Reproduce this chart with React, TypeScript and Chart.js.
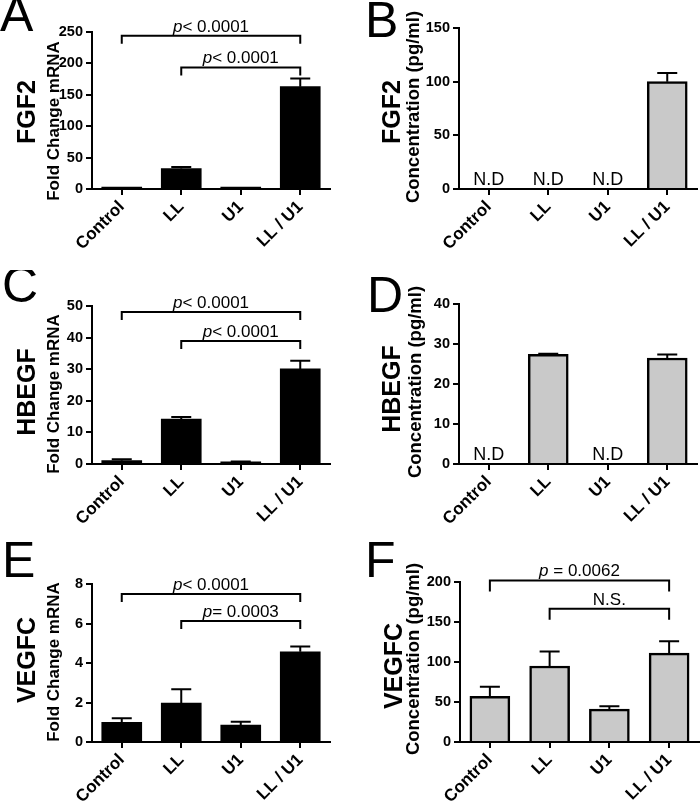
import React, { useEffect, useRef } from 'react';
import { Chart, registerables } from 'chart.js';

Chart.register(...registerables);

// ---------------- DATA ----------------
const categories = ['Control', 'LL', 'U1', 'LL / U1'];

// Panel A: FGF2 fold change mRNA
const fgf2MrnaMean = [1, 32.7, 1, 163];
const fgf2MrnaErr = [0.4, 2.5, 0.3, 13];
const fgf2MrnaTicks = [0, 50, 100, 150, 200, 250];
const fgf2MrnaBrackets = [
  { from: 0, to: 3, y: 244, italic: 'p', text: '< 0.0001' },
  { from: 1, to: 3, y: 193.5, italic: 'p', text: '< 0.0001' },
];

// Panel B: FGF2 concentration (null = N.D)
const fgf2ProtMean = [null, null, null, 100];
const fgf2ProtErr = [0, 0, 0, 8];
const fgf2ProtTicks = [0, 50, 100, 150];

// Panel C: HBEGF fold change mRNA
const hbegfMrnaMean = [1.05, 14.2, 0.7, 30.1];
const hbegfMrnaErr = [0.45, 0.7, 0.1, 2.6];
const hbegfMrnaTicks = [0, 10, 20, 30, 40, 50];
const hbegfMrnaBrackets = [
  { from: 0, to: 3, y: 48.1, italic: 'p', text: '< 0.0001' },
  { from: 1, to: 3, y: 38.9, italic: 'p', text: '< 0.0001' },
];

// Panel D: HBEGF concentration
const hbegfProtMean = [null, 27.4, null, 26.5];
const hbegfProtErr = [0, 0.15, 0, 0.9];
const hbegfProtTicks = [0, 10, 20, 30, 40];

// Panel E: VEGFC fold change mRNA
const vegfcMrnaMean = [1.0, 1.97, 0.86, 4.57];
const vegfcMrnaErr = [0.2, 0.7, 0.17, 0.26];
const vegfcMrnaTicks = [0, 2, 4, 6, 8];
const vegfcMrnaBrackets = [
  { from: 0, to: 3, y: 7.49, italic: 'p', text: '< 0.0001' },
  { from: 1, to: 3, y: 6.13, italic: 'p', text: '= 0.0003' },
];

// Panel F: VEGFC concentration
const vegfcProtMean = [57, 95, 41, 111];
const vegfcProtErr = [12, 18, 3.7, 15];
const vegfcProtTicks = [0, 50, 100, 150, 200];
const vegfcProtBrackets = [
  { from: 0, to: 3, y: 202, italic: 'p', text: ' = 0.0062' },
  { from: 1, to: 3, y: 166.7, italic: '', text: 'N.S.' },
];

// ---------------- STYLE / LAYOUT ----------------
const FONT = '"Liberation Sans", Arial, Helvetica, sans-serif';
const BLACK_FILL = '#000000';
const GRAY_FILL = '#c9c9c9';

type Bracket = { from: number; to: number; y: number; italic: string; text: string };
type Panel = {
  letter: string;
  gene: string;
  unit: string;
  unitSize: number;
  mean: (number | null)[];
  err: number[];
  ticks: number[];
  brackets: Bracket[];
  gray: boolean;
  box: { x: number; y: number; w: number; h: number };
  area: { l: number; r: number; t: number; b: number };
  letterPos: [number, number];
  geneX: number;
  geneY: number;
  unitX: number;
  unitY: number;
  drop: number;
};

const panels: Panel[] = [
  {
    letter: 'A', gene: 'FGF2', unit: 'Fold Change mRNA', unitSize: 17, mean: fgf2MrnaMean, err: fgf2MrnaErr,
    ticks: fgf2MrnaTicks, brackets: fgf2MrnaBrackets, gray: false,
    box: { x: 0, y: 0, w: 350, h: 268 }, area: { l: 92, r: 330, t: 32, b: 189 },
    letterPos: [0, 31], geneX: 35, geneY: 112, unitX: 59, unitY: 121, drop: 8,
  },
  {
    letter: 'B', gene: 'FGF2', unit: 'Concentration (pg/ml)', unitSize: 18.5, mean: fgf2ProtMean, err: fgf2ProtErr,
    ticks: fgf2ProtTicks, brackets: [], gray: true,
    box: { x: 350, y: 0, w: 350, h: 268 }, area: { l: 109, r: 347, t: 28, b: 189 },
    letterPos: [15, 37], geneX: 50, geneY: 112, unitX: 69, unitY: 107, drop: 8,
  },
  {
    letter: 'C', gene: 'HBEGF', unit: 'Fold Change mRNA', unitSize: 17, mean: hbegfMrnaMean, err: hbegfMrnaErr,
    ticks: hbegfMrnaTicks, brackets: hbegfMrnaBrackets, gray: false,
    box: { x: 0, y: 270, w: 350, h: 265 }, area: { l: 92, r: 330, t: 36, b: 194 },
    letterPos: [2, 32], geneX: 35, geneY: 122, unitX: 59, unitY: 124, drop: 8,
  },
  {
    letter: 'D', gene: 'HBEGF', unit: 'Concentration (pg/ml)', unitSize: 18.5, mean: hbegfProtMean, err: hbegfProtErr,
    ticks: hbegfProtTicks, brackets: [], gray: true,
    box: { x: 350, y: 270, w: 350, h: 265 }, area: { l: 109, r: 347, t: 34, b: 194 },
    letterPos: [17, 42], geneX: 50, geneY: 119, unitX: 71, unitY: 112, drop: 8,
  },
  {
    letter: 'E', gene: 'VEGFC', unit: 'Fold Change mRNA', unitSize: 17, mean: vegfcMrnaMean, err: vegfcMrnaErr,
    ticks: vegfcMrnaTicks, brackets: vegfcMrnaBrackets, gray: false,
    box: { x: 0, y: 535, w: 350, h: 267 }, area: { l: 92, r: 330, t: 49, b: 207 },
    letterPos: [2, 42], geneX: 35, geneY: 125, unitX: 59, unitY: 127, drop: 8,
  },
  {
    letter: 'F', gene: 'VEGFC', unit: 'Concentration (pg/ml)', unitSize: 18.5, mean: vegfcProtMean, err: vegfcProtErr,
    ticks: vegfcProtTicks, brackets: vegfcProtBrackets, gray: true,
    box: { x: 350, y: 535, w: 350, h: 267 }, area: { l: 110, r: 349, t: 47, b: 207 },
    letterPos: [15, 42], geneX: 52, geneY: 131, unitX: 69, unitY: 124, drop: 11,
  },
];

function makeDecor(p: Panel) {
  return {
    id: 'decor' + p.letter,
    afterDatasetsDraw(chart: any) {
      const ctx = chart.ctx;
      const xs = chart.scales.x;
      const ys = chart.scales.y;
      ctx.save();
      ctx.strokeStyle = '#000';
      ctx.lineWidth = 2;
      p.mean.forEach((m, i) => {
        if (m === null || !(p.err[i] > 0)) return;
        const x = xs.getPixelForValue(i);
        const y1 = ys.getPixelForValue(m);
        const y2 = ys.getPixelForValue(m + p.err[i]);
        ctx.beginPath();
        ctx.moveTo(x, y1);
        ctx.lineTo(x, y2);
        ctx.moveTo(x - 10, y2);
        ctx.lineTo(x + 10, y2);
        ctx.stroke();
      });
      ctx.restore();
    },
    afterDraw(chart: any) {
      const ctx = chart.ctx;
      const xs = chart.scales.x;
      const ys = chart.scales.y;
      ctx.save();
      ctx.fillStyle = '#000';
      ctx.strokeStyle = '#000';

      // panel letter
      ctx.font = `50px ${FONT}`;
      ctx.textAlign = 'left';
      ctx.textBaseline = 'alphabetic';
      ctx.fillText(p.letter, p.letterPos[0], p.letterPos[1]);

      // y titles
      ctx.textAlign = 'center';
      ctx.save();
      ctx.translate(p.geneX, p.geneY);
      ctx.rotate(-Math.PI / 2);
      ctx.font = `bold 25px ${FONT}`;
      ctx.fillText(p.gene, 0, 0);
      ctx.restore();
      ctx.save();
      ctx.translate(p.unitX, p.unitY);
      ctx.rotate(-Math.PI / 2);
      ctx.font = `bold ${p.unitSize}px ${FONT}`;
      ctx.fillText(p.unit, 0, 0);
      ctx.restore();

      // N.D labels
      ctx.font = `18px ${FONT}`;
      ctx.textAlign = 'center';
      p.mean.forEach((m, i) => {
        if (m !== null) return;
        ctx.fillText('N.D', xs.getPixelForValue(i), chart.chartArea.bottom - 4);
      });

      // brackets
      ctx.lineWidth = 2;
      p.brackets.forEach((b) => {
        const x1 = xs.getPixelForValue(b.from);
        const x2 = xs.getPixelForValue(b.to);
        const y = ys.getPixelForValue(b.y);
        ctx.beginPath();
        ctx.moveTo(x1, y + p.drop);
        ctx.lineTo(x1, y);
        ctx.lineTo(x2, y);
        ctx.lineTo(x2, y + p.drop);
        ctx.stroke();
        ctx.textAlign = 'left';
        ctx.font = `italic 17px ${FONT}`;
        const wi = b.italic ? ctx.measureText(b.italic).width : 0;
        ctx.font = `17px ${FONT}`;
        const wt = ctx.measureText(b.text).width;
        const sx = (x1 + x2) / 2 - (wi + wt) / 2;
        if (b.italic) {
          ctx.font = `italic 17px ${FONT}`;
          ctx.fillText(b.italic, sx, y - 4);
        }
        ctx.font = `17px ${FONT}`;
        ctx.fillText(b.text, sx + wi, y - 4);
      });
      ctx.restore();
    },
  };
}

function PanelChart({ p }: { p: Panel }) {
  const ref = useRef<HTMLCanvasElement | null>(null);
  useEffect(() => {
    if (!ref.current) return;
    const chart = new Chart(ref.current, {
      type: 'bar',
      data: {
        labels: categories,
        datasets: [
          {
            data: p.mean as any,
            backgroundColor: p.gray ? GRAY_FILL : BLACK_FILL,
            borderColor: '#000',
            borderWidth: p.gray ? 2.5 : 0,
            barThickness: 40,
            minBarLength: p.gray ? 0 : 2,
          },
        ],
      },
      options: {
        responsive: false,
        animation: false,
        devicePixelRatio: 1,
        layout: {
          padding: { left: 0, top: p.area.t, right: p.box.w - p.area.r, bottom: 0 },
        },
        plugins: { legend: { display: false }, tooltip: { enabled: false } },
        scales: {
          x: {
            type: 'category',
            offset: true,
            grid: {
              display: true,
              drawOnChartArea: false,
              drawTicks: true,
              tickLength: 6,
              offset: false,
              color: '#000',
              lineWidth: 2,
            },
            border: { display: true, color: '#000', width: 2 },
            ticks: {
              autoSkip: false,
              minRotation: 45,
              maxRotation: 45,
              padding: 2,
              color: '#000',
              font: { family: FONT, size: 17, weight: 'bold' },
            },
            afterFit: (s: any) => {
              s.height = p.box.h - p.area.b;
            },
          },
          y: {
            type: 'linear',
            min: p.ticks[0],
            max: p.ticks[p.ticks.length - 1],
            afterBuildTicks: (s: any) => {
              s.ticks = p.ticks.map((v) => ({ value: v }));
            },
            grid: {
              display: true,
              drawOnChartArea: false,
              drawTicks: true,
              tickLength: 6,
              color: '#000',
              lineWidth: 2,
            },
            border: { display: true, color: '#000', width: 2 },
            ticks: {
              padding: 3,
              color: '#000',
              font: { family: FONT, size: 14.5, weight: 'bold' },
            },
            afterFit: (s: any) => {
              s.width = p.area.l;
            },
          },
        },
      } as any,
      plugins: [makeDecor(p)],
    });
    return () => chart.destroy();
  }, [p]);
  return (
    <canvas
      ref={ref}
      width={p.box.w}
      height={p.box.h}
      style={{ position: 'absolute', left: p.box.x, top: p.box.y, width: p.box.w, height: p.box.h }}
    />
  );
}

export default function App() {
  return (
    <div style={{ position: 'fixed', left: 0, top: 0, width: 700, height: 802, background: '#fff' }}>
      {panels.map((p) => (
        <PanelChart key={p.letter} p={p} />
      ))}
    </div>
  );
}
